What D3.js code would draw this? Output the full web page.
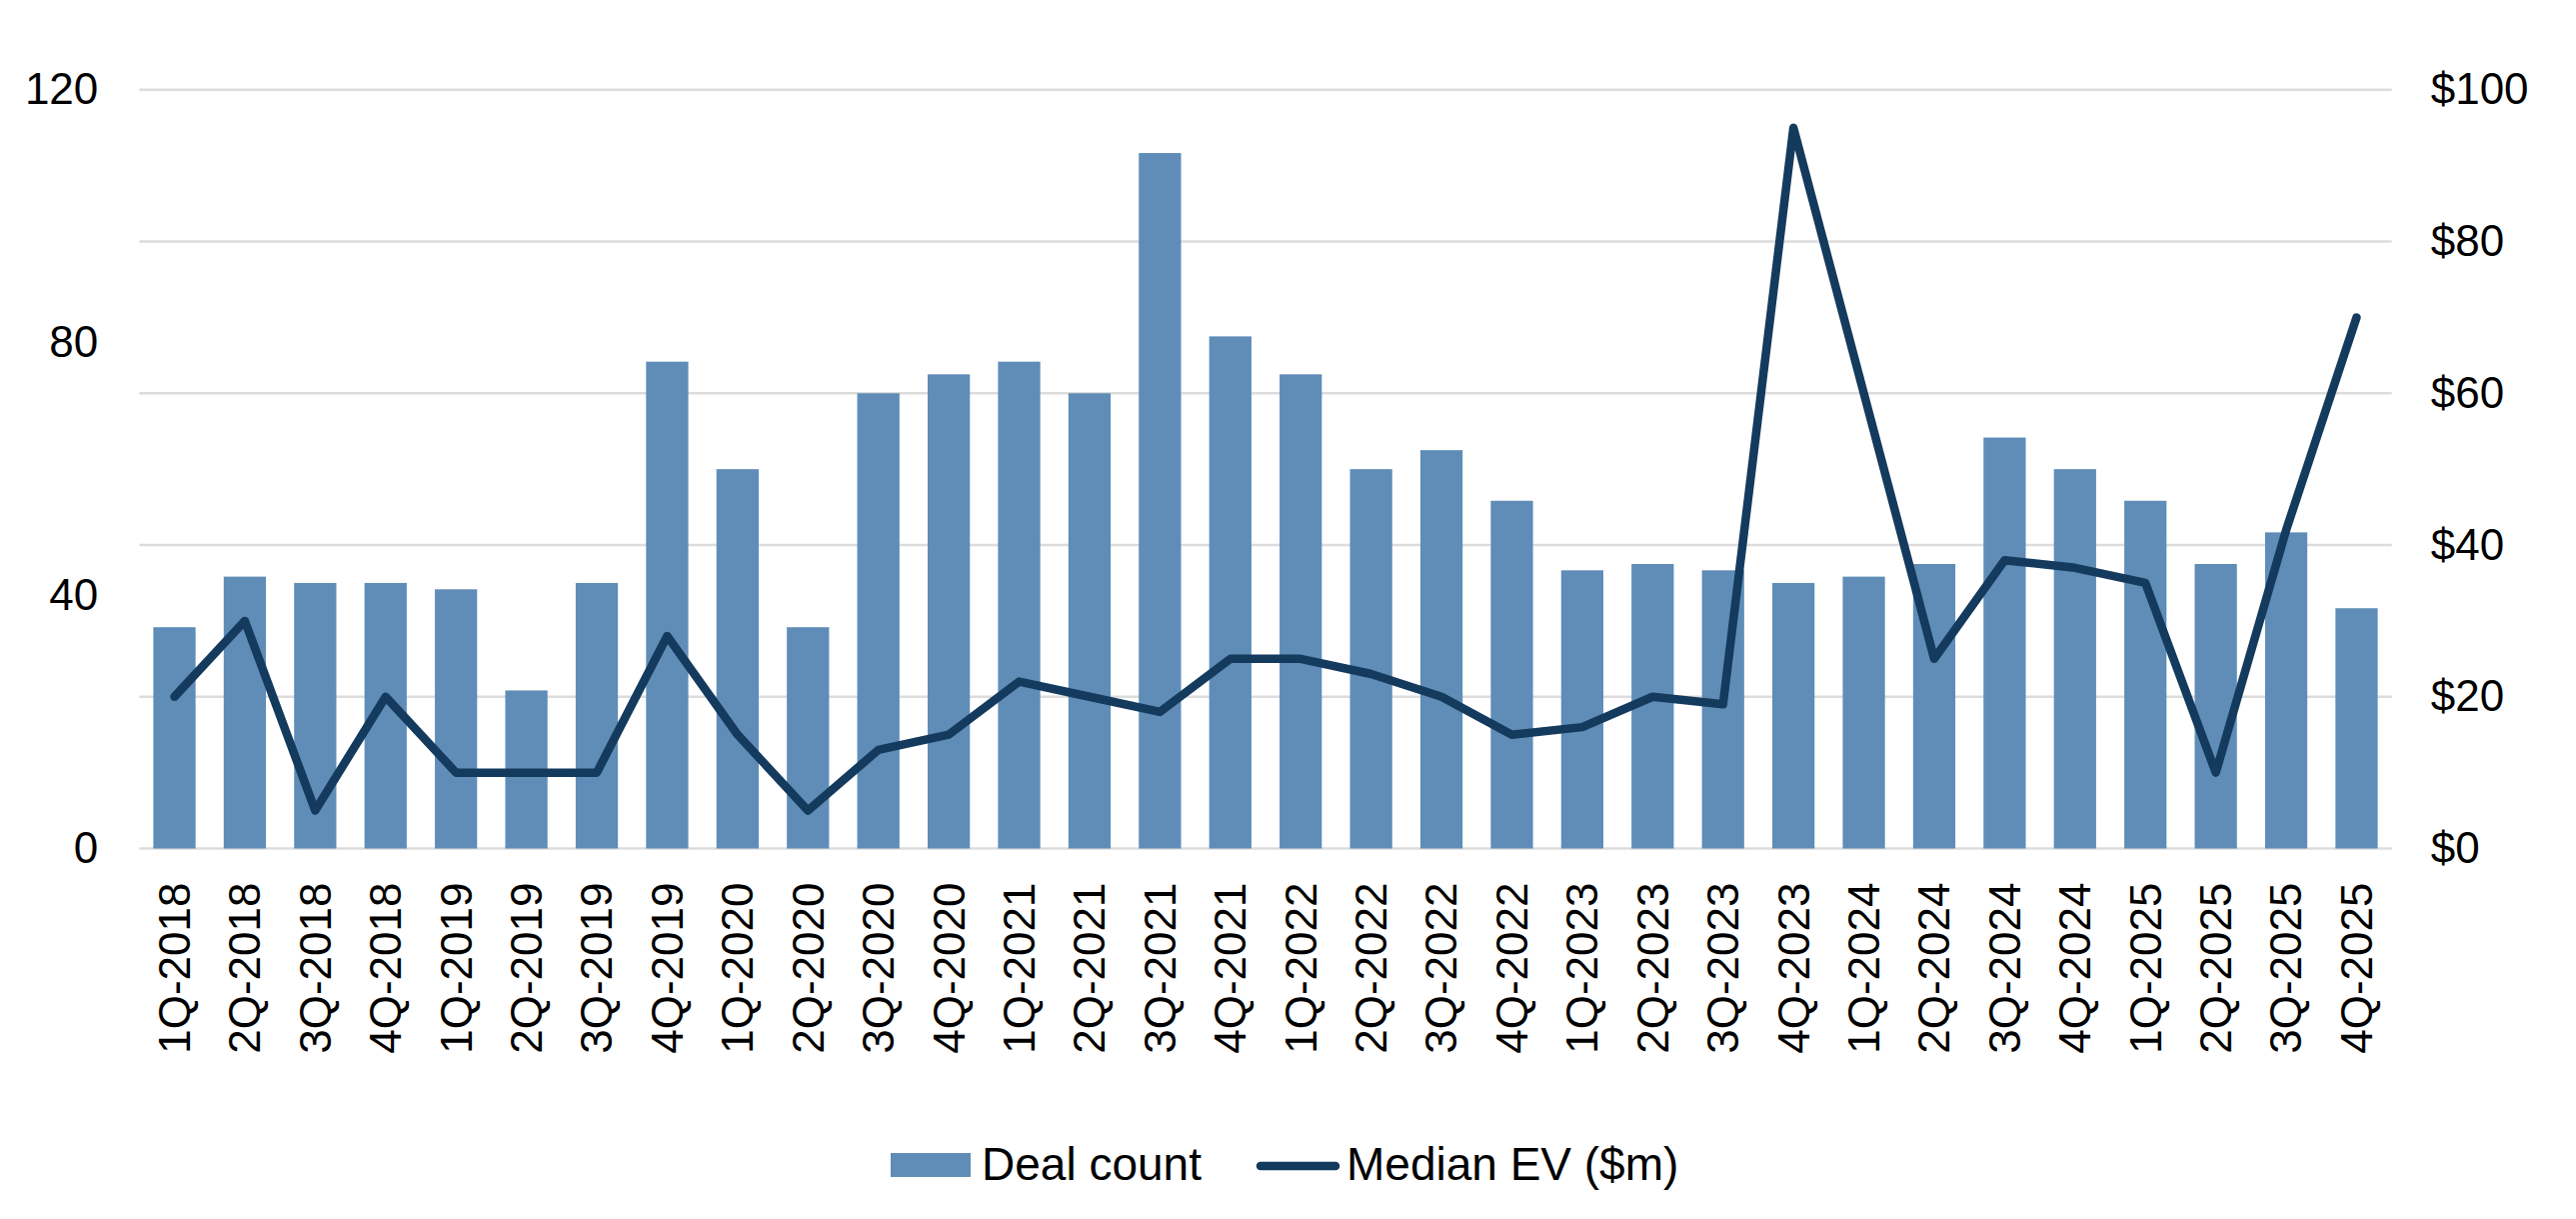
<!DOCTYPE html>
<html>
<head>
<meta charset="utf-8">
<script src="https://cdn.jsdelivr.net/npm/d3@7"></script>
<style>
  html, body { margin: 0; padding: 0; background: #ffffff; }
  svg { display: block; }
  text { font-family: "Liberation Sans", Arial, sans-serif; fill: #000; }
</style>
</head>
<body>
<script>
const categories = ["1Q-2018","2Q-2018","3Q-2018","4Q-2018","1Q-2019","2Q-2019","3Q-2019","4Q-2019",
  "1Q-2020","2Q-2020","3Q-2020","4Q-2020","1Q-2021","2Q-2021","3Q-2021","4Q-2021",
  "1Q-2022","2Q-2022","3Q-2022","4Q-2022","1Q-2023","2Q-2023","3Q-2023","4Q-2023",
  "1Q-2024","2Q-2024","3Q-2024","4Q-2024","1Q-2025","2Q-2025","3Q-2025","4Q-2025"];
const dealCount = [35,43,42,42,41,25,42,77,60,35,72,75,77,72,110,81,75,60,63,55,44,45,44,42,43,45,65,60,55,45,50,38];
const medianEV = [20,30,5,20,10,10,10,28,15,5,13,15,22,20,18,25,25,23,20,15,16,20,19,95,60,25,38,37,35,10,42,70];
const leftTicks = [0,40,80,120];
const rightTicks = [0,20,40,60,80,100];
const seriesNames = ["Deal count","Median EV ($m)"];

const W = 2577, H = 1219;
const plotL = 139.3, plotR = 2392.7, plotT = 89.8, plotB = 848.5;
const barColor = "#5f8db7", lineColor = "#143a5e", gridColor = "#dcdcdc";
const fontSize = 44;

const svg = d3.select("body").append("svg").attr("width", W).attr("height", H);

const x = d3.scaleBand().domain(categories).range([plotL, plotR]).paddingInner(0.4).paddingOuter(0.2);
const yL = d3.scaleLinear().domain([0,120]).range([plotB, plotT]);
const yR = d3.scaleLinear().domain([0,100]).range([plotB, plotT]);

// gridlines
svg.append("g").selectAll("line").data(rightTicks).join("line")
  .attr("x1", plotL).attr("x2", plotR)
  .attr("y1", d => yR(d)).attr("y2", d => yR(d))
  .attr("stroke", gridColor).attr("stroke-width", 2.5);

// bars
svg.append("g").selectAll("rect").data(categories).join("rect")
  .attr("x", d => x(d))
  .attr("width", x.bandwidth())
  .attr("y", (d,i) => yL(dealCount[i]))
  .attr("height", (d,i) => yL(0) - yL(dealCount[i]))
  .attr("fill", barColor);

// line
const line = d3.line()
  .x((d,i) => x(categories[i]) + x.bandwidth()/2)
  .y(d => yR(d));
svg.append("path").datum(medianEV)
  .attr("d", line)
  .attr("fill", "none")
  .attr("stroke", lineColor)
  .attr("stroke-width", 8.5)
  .attr("stroke-linejoin", "round")
  .attr("stroke-linecap", "round");

// left axis
const axL = svg.append("g").attr("transform", `translate(${plotL},0)`)
  .call(d3.axisLeft(yL).tickValues(leftTicks).tickSize(0).tickPadding(41).tickFormat(d3.format("d")));
axL.select(".domain").remove();
axL.selectAll("text").style("font-size", fontSize + "px").attr("fill", "#000");

// right axis
const axR = svg.append("g").attr("transform", `translate(${plotR},0)`)
  .call(d3.axisRight(yR).tickValues(rightTicks).tickSize(0).tickPadding(39).tickFormat(d => "$" + d));
axR.select(".domain").remove();
axR.selectAll("text").style("font-size", fontSize + "px").attr("fill", "#000");

// bottom axis
const axB = svg.append("g").attr("transform", `translate(0,${plotB})`)
  .call(d3.axisBottom(x).tickSize(0));
axB.select(".domain").remove();
axB.selectAll("text")
  .style("font-size", fontSize + "px").attr("fill", "#000")
  .attr("transform", "rotate(-90)")
  .attr("x", -34).attr("y", 0).attr("dy", "0.35em")
  .attr("text-anchor", "end");

// legend
const lg = svg.append("g");
lg.append("rect").attr("x", 891).attr("y", 1153).attr("width", 80).attr("height", 24).attr("fill", barColor);
lg.append("text").attr("x", 982).attr("y", 1180).style("font-size", "46px").text(seriesNames[0]);
lg.append("line").attr("x1", 1261).attr("x2", 1336).attr("y1", 1166).attr("y2", 1166)
  .attr("stroke", lineColor).attr("stroke-width", 8.5).attr("stroke-linecap", "round");
lg.append("text").attr("x", 1347).attr("y", 1180).style("font-size", "46px").text(seriesNames[1]);
</script>
</body>
</html>
